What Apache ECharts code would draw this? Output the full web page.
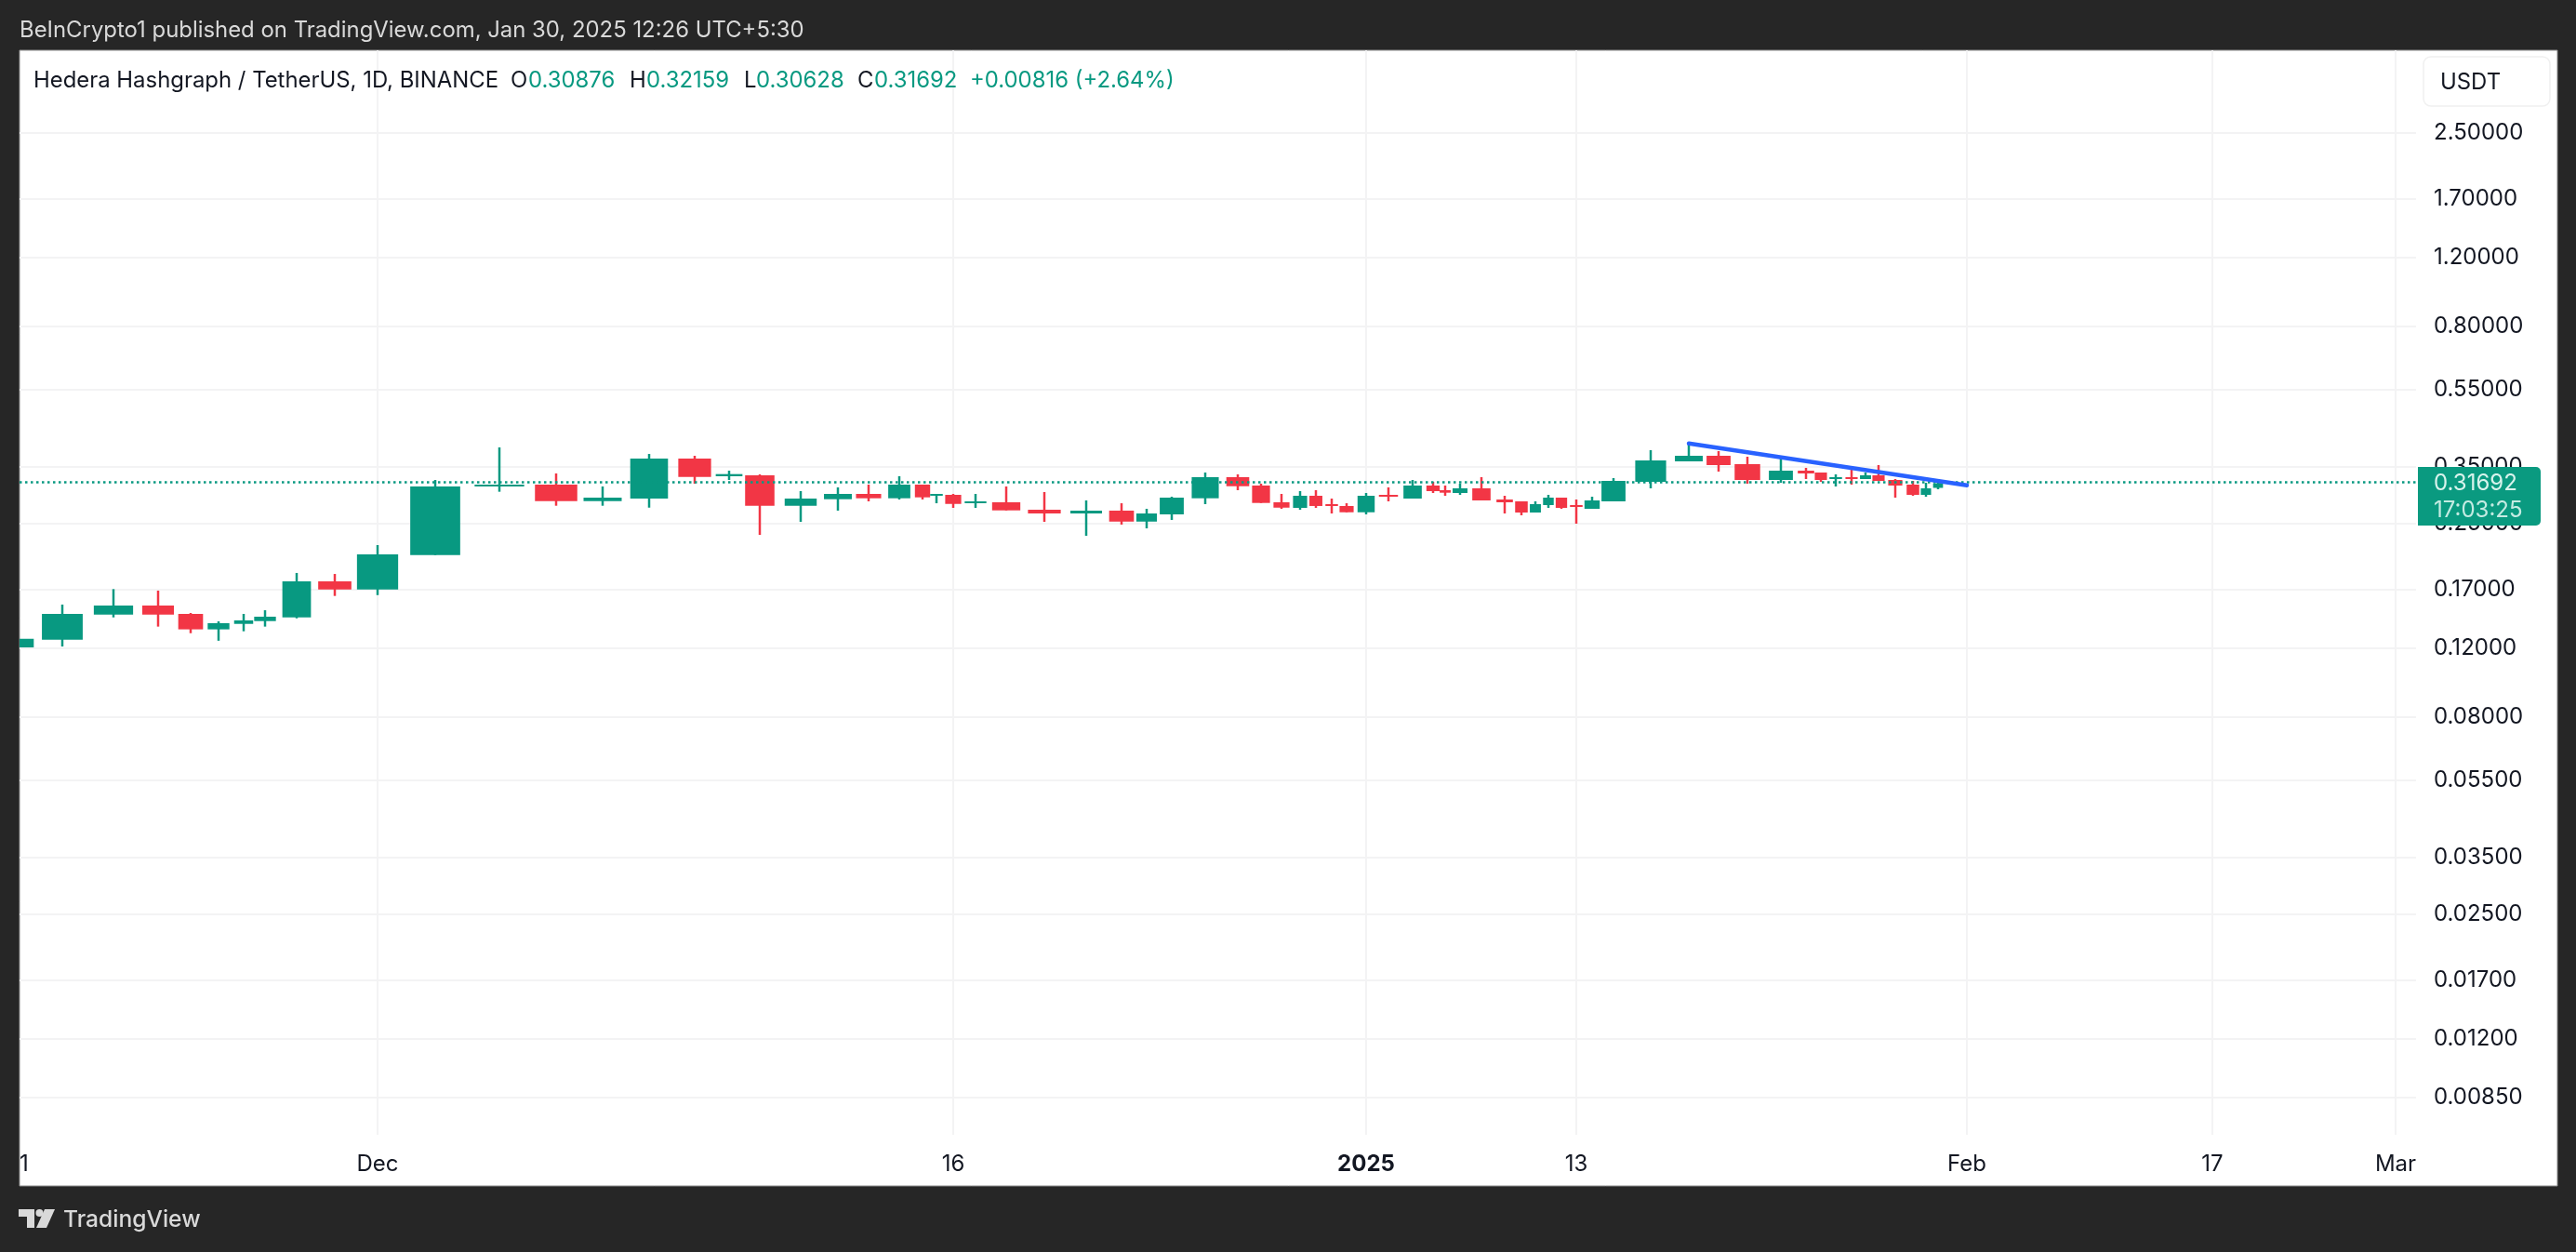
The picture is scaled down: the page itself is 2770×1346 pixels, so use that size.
<!DOCTYPE html>
<html><head><meta charset="utf-8">
<style>html,body{margin:0;padding:0;background:#262626}#c{width:2770px;height:1346px}</style>
<script src="https://cdn.jsdelivr.net/npm/echarts@6/dist/echarts.min.js"></script>
</head><body><div id="c"></div>
<script>
// Daily sessions, 21 Nov 2024 – 30 Jan 2025
const dates = ["Nov 21","Nov 22","Nov 23","Nov 24","Nov 25","Nov 26","Nov 27","Nov 28","Nov 29","Nov 30",
"Dec 1","Dec 2","Dec 3","Dec 4","Dec 5","Dec 6","Dec 7","Dec 8","Dec 9","Dec 10","Dec 11","Dec 12","Dec 13","Dec 14","Dec 15","Dec 16","Dec 17","Dec 18","Dec 19","Dec 20","Dec 21","Dec 22","Dec 23","Dec 24","Dec 25","Dec 26","Dec 27","Dec 28","Dec 29","Dec 30","Dec 31",
"Jan 1","Jan 2","Jan 3","Jan 4","Jan 5","Jan 6","Jan 7","Jan 8","Jan 9","Jan 10","Jan 11","Jan 12","Jan 13","Jan 14","Jan 15","Jan 16","Jan 17","Jan 18","Jan 19","Jan 20","Jan 21","Jan 22","Jan 23","Jan 24","Jan 25","Jan 26","Jan 27","Jan 28","Jan 29","Jan 30"];
const opens = [.1205,.1261,.1463,.1543,.1469,.1341,.1385,.1408,.1439,.1780,
.1697,.2078,.3118,.3147,.2857,.2899,.3669,.3307,.3325,.2779,.2888,.2980,.2904,.3147,.2952,.2963,.2825,.2836,.2714,.2655,.2700,.2531,.2641,.2904,.3289,.3130,.2836,.2744,.2947,.2805,.2775,
.2674,.2963,.2899,.3130,.3046,.2996,.3079,.2883,.2852,.2670,.2790,.2915,.2790,.2729,.2852,.3200,.3610,.3730,.3551,.3235,.3417,.3380,.3258,.3289,.3253,.3325,.3235,.3147,.2963,.30876];
const highs = [.1268,.1552,.1700,.1685,.1477,.1406,.1469,.1501,.1870,.1859,
.2204,.3235,.3919,.3362,.3113,.3771,.3730,.3417,.3343,.3029,.3096,.3147,.3307,.3147,.2980,.2980,.2980,.3113,.3013,.2867,.2820,.2729,.2931,.3380,.3343,.3165,.2980,.3029,.3046,.2899,.2820,
.2996,.3096,.3235,.3200,.3130,.3165,.3289,.2947,.2852,.2852,.2963,.2915,.2883,.2931,.3271,.3855,.4028,.3834,.3710,.3710,.3474,.3380,.3343,.3512,.3380,.3532,.3253,.3217,.3182,.32159];
const lows = [.1205,.1212,.1439,.1363,.1311,.1254,.1326,.1363,.1431,.1633,
.1641,.2078,.3018,.2779,.2779,.2748,.3165,.3235,.2341,.2528,.2700,.2852,.2883,.2883,.2820,.2744,.2744,.2704,.2528,.2328,.2486,.2432,.2556,.2805,.3046,.2825,.2729,.2714,.2744,.2655,.2674,
.2641,.2852,.2899,.2996,.2947,.2963,.2867,.2655,.2627,.2670,.2744,.2729,.2500,.2729,.2852,.3079,.3610,.3399,.3165,.3182,.3253,.3200,.3113,.3147,.3253,.3217,.2915,.2947,.2931,.30628];
const closes = [.1268,.1469,.1543,.1463,.1341,.1391,.1414,.1445,.1780,.1697,
.2086,.3113,.3147,.2857,.2915,.3669,.3294,.3349,.2779,.2899,.2980,.2904,.3147,.2920,.2980,.2809,.2852,.2704,.2655,.2700,.2531,.2655,.2915,.3289,.3118,.2825,.2748,.2947,.2775,.2782,.2674,
.2947,.2936,.3130,.3029,.3001,.3079,.2867,.2836,.2670,.2805,.2915,.2744,.2759,.2867,.3217,.3630,.3730,.3532,.3235,.3417,.3362,.3235,.3289,.3253,.3325,.3217,.3130,.2963,.3079,.31692];
// The picture's time axis is not uniform: where each session sits along it (axis units).
const sessionScale = [-6,46,101,149,184,214,241,264,298,339,
385,447,516,577,627,677,726,763,796,840,880,913,946,971,986,1004,1028,1061,1102,1147,1185,1212,1239,1275,1310,1335,1357,1377,1394,1411,1427,
1448,1472,1498,1520,1533,1549,1572,1597,1615,1630,1644,1658,1674,1691,1714,1754,1795,1827,1858,1894,1921,1937,1953,1970,1985,1999,2017,2036,2050,2063];
const timeTicks = [385,1004,1448,1674,2094,2358,2555];
const timeTickLabels = ["Dec","16","2025","13","Feb","17","Mar"];
const leftEdgeLabel = "1";
const priceTicks = [2.5,1.7,1.2,0.8,0.55,0.35,0.25,0.17,0.12,0.08,0.055,0.035,0.025,0.017,0.012,0.0085];
const trendTimes = [1795,2094];
const trendPrices = [.4012,.3135];
const lastPrice = .31692, countdown = "17:03:25";
const up = '#089981', down = '#f23645', ink = '#131722', grid = '#f3f3f4', frame = '#262626', pale = '#d9d9d9';
const FONT = 'Inter, "Noto Sans", sans-serif';

const ohlc = dates.map((d,i)=>[sessionScale[i],opens[i],closes[i],lows[i],highs[i],i]);
const last = sessionScale.length-1;
function step(i){
  const a = i>0 ? sessionScale[i]-sessionScale[i-1] : sessionScale[1]-sessionScale[0];
  const b = i<last ? sessionScale[i+1]-sessionScale[i] : a;
  return (a+b)/2;
}
function renderCandle(params, api){
  const i = api.value(5), x = api.value(0);
  const o = api.coord([x,api.value(1)]), c = api.coord([x,api.value(2)]);
  const l = api.coord([x,api.value(3)]), h = api.coord([x,api.value(4)]);
  const unit = api.size([1,0])[0];
  const w = step(i)*unit*0.82;
  const top = Math.min(o[1],c[1]), bh = Math.max(Math.abs(o[1]-c[1]),2);
  const col = api.value(2)>=api.value(1) ? up : down;
  return {type:'group',children:[
    {type:'rect',shape:{x:o[0]-1.25,y:h[1],width:2.5,height:l[1]-h[1]},style:{fill:col}},
    {type:'rect',shape:{x:o[0]-w/2,y:top,width:w,height:bh},style:{fill:col}}
  ]};
}
const txt=(x,y,text,fill,font)=>({type:'text',z:100,style:{x,y,text,fill,font:font||`23.9px ${FONT}`,textVerticalAlign:'middle'}});
const chart = echarts.init(document.getElementById('c'),null,{renderer:'canvas'});
chart.setOption({
  animation:false,
  backgroundColor:frame,
  grid:{left:21,top:54,width:2577,height:1166,containLabel:false},
  xAxis:{type:'value',min:0,max:2577,
    axisLine:{show:false},
    axisTick:{show:false,customValues:timeTicks},
    splitLine:{show:true,lineStyle:{color:grid,width:2}},
    axisLabel:{customValues:[5].concat(timeTicks),margin:20,color:ink,fontFamily:FONT,fontSize:24,hideOverlap:false,
      showMinLabel:true,showMaxLabel:true,
      formatter:v=>{ if(v===5) return leftEdgeLabel; const t=timeTickLabels[timeTicks.indexOf(v)]; return t==='2025'?`{b|${t}}`:t; },
      rich:{b:{fontWeight:'bold',fontSize:24,fontFamily:FONT,color:ink}}}
  },
  yAxis:{type:'log',logBase:10,min:0.006817,max:4.073,position:'right',
    axisLine:{show:false},
    axisTick:{show:false,customValues:priceTicks},
    splitLine:{show:true,lineStyle:{color:grid,width:2}},
    axisLabel:{customValues:priceTicks,align:'left',margin:19,padding:[3,0,0,0],color:ink,fontFamily:FONT,fontSize:24,hideOverlap:false,
      formatter:v=>Number(v).toFixed(5)}
  },
  series:[
    {type:'custom',name:'HBAR/USDT',clip:true,renderItem:renderCandle,data:ohlc,encode:{x:0,y:[1,2,3,4]},z:3,
     markLine:{silent:true,symbol:'none',label:{show:false},animation:false,
       lineStyle:{color:up,width:2.5,type:[2.5,3.5],opacity:1},data:[{yAxis:lastPrice}]}},
    {type:'line',name:'Trend',data:trendTimes.map((t,i)=>[t,trendPrices[i]]),showSymbol:false,symbol:'none',z:5,
     lineStyle:{color:'#2962ff',width:4.5,cap:'round'}}
  ],
  graphic:[
    {type:'rect',z:-1,shape:{x:21,y:54,width:2729,height:1221},style:{fill:'#ffffff',stroke:'#8a8a8a',lineWidth:1}},
    txt(21,32.5,'BeInCrypto1 published on TradingView.com, Jan 30, 2025 12:26 UTC+5:30',pale),
    txt(36,86.5,'Hedera Hashgraph / TetherUS, 1D, BINANCE',ink),
    txt(549,86.5,'O',ink), txt(568,86.5,'0.30876',up),
    txt(677,86.5,'H',ink), txt(695,86.5,'0.32159',up),
    txt(800,86.5,'L',ink), txt(813,86.5,'0.30628',up),
    txt(922,86.5,'C',ink), txt(940,86.5,'0.31692',up),
    txt(1043,86.5,'+0.00816 (+2.64%)',up),
    {type:'rect',z:100,shape:{x:2606,y:61,width:136,height:53,r:8},style:{fill:'#fff',stroke:'#f0f0f0',lineWidth:1.5}},
    txt(2624,88.5,'USDT',ink),
    {type:'rect',z:100,shape:{x:2600,y:502,width:132,height:63,r:[0,5,5,0]},style:{fill:'#0a9a80'}},
    txt(2617,520,'0.31692','#d8f3ec',`24px ${FONT}`),
    txt(2617,549,countdown,'#c4ebe2',`24px ${FONT}`),
    {type:'polygon',z:100,shape:{points:[[20,1300],[37,1300],[37,1320],[29,1320],[29,1308],[20,1308]]},style:{fill:pale}},
    {type:'circle',z:100,shape:{cx:42.5,cy:1304,r:4},style:{fill:pale}},
    {type:'polygon',z:100,shape:{points:[[48,1300],[59,1300],[50,1320],[39,1320]]},style:{fill:pale}},
    txt(68,1312,'TradingView',pale,`500 24.6px ${FONT}`)
  ]
});
</script></body></html>
